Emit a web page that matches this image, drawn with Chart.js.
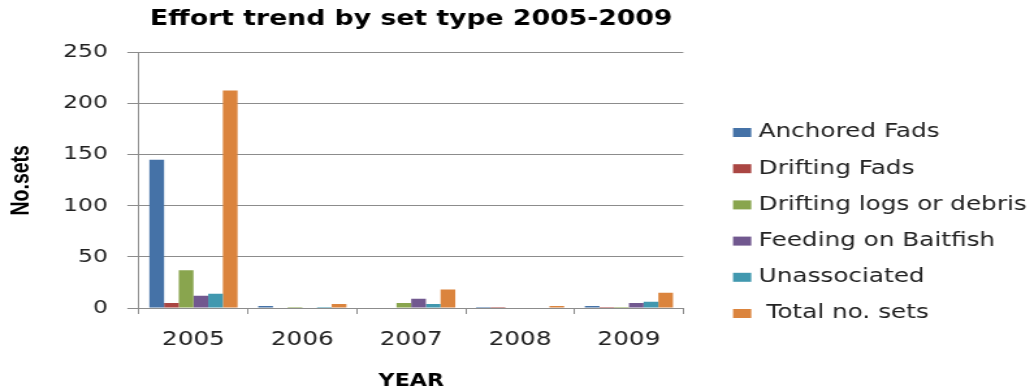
<!DOCTYPE html>
<html>
<head>
<meta charset="utf-8">
<script src="https://cdn.jsdelivr.net/npm/chart.js@4/dist/chart.umd.min.js"></script>
<style>
  html, body { margin: 0; padding: 0; background: #ffffff; overflow: hidden; }
  #wrap { width: 795px; height: 390px; transform: scaleX(1.3006); transform-origin: 0 0; }
</style>
</head>
<body>
<div id="wrap"><canvas id="c"></canvas></div>
<script>
// ---- data ----
const years = ['2005', '2006', '2007', '2008', '2009'];
const anchoredFads = [145, 2, 0, 1, 2];
const driftingFads = [5, 0, 0, 1, 1];
const driftingLogs = [37, 1, 5, 0, 1];
const feedingBaitfish = [12, 0, 9, 0, 5];
const unassociated = [14, 1, 4, 0, 6];
const totalSets = [213, 4, 18, 2, 15];
const seriesNames = ['Anchored Fads', 'Drifting Fads', 'Drifting logs or debris', 'Feeding on Baitfish', 'Unassociated', ' Total no. sets'];
const yTicks = [0, 50, 100, 150, 200, 250];
const chartTitle = 'Effort trend by set type 2005-2009';
const xTitle = 'YEAR';
const yTitle = 'No.sets';

const seriesValues = [anchoredFads, driftingFads, driftingLogs, feedingBaitfish, unassociated, totalSets];
const seriesColors = ['#4572A7', '#AA4643', '#89A54E', '#71588F', '#4198AF', '#DB843D'];

const legendPlugin = {
  id: 'sideLegend',
  afterDraw(chart) {
    const ctx = chart.ctx;
    ctx.save();
    chart.data.datasets.forEach((ds, i) => {
      const yc = 132.5 + i * 36.2;
      ctx.fillStyle = ds.backgroundColor;
      ctx.fillRect(563.6, yc - 4.5, 14, 9);
      ctx.fillStyle = '#222222';
      ctx.font = '19px "DejaVu Sans"';
      ctx.textBaseline = 'middle';
      ctx.textAlign = 'left';
      ctx.fillText(ds.label, 583.3, yc);
    });
    ctx.restore();
  }
};

new Chart(document.getElementById('c'), {
  type: 'bar',
  data: {
    labels: years,
    datasets: seriesNames.map((name, i) => ({
      label: name,
      data: seriesValues[i],
      backgroundColor: seriesColors[i],
      borderWidth: 0,
      categoryPercentage: 0.81,
      barPercentage: 1.0
    }))
  },
  options: {
    responsive: true,
    maintainAspectRatio: false,
    animation: false,
    layout: { padding: { left: 0, right: 269.6, top: 0, bottom: 0 } },
    plugins: {
      legend: { display: false },
      tooltip: { enabled: false },
      title: {
        display: true,
        text: chartTitle,
        fullSize: false,
        color: '#000000',
        font: { family: '"DejaVu Sans"', size: 20.5, weight: 'bold', lineHeight: 1.2 },
        padding: { top: 7.2, bottom: 20.8 }
      }
    },
    scales: {
      x: {
        grid: { display: true, drawOnChartArea: false, drawTicks: true, tickLength: 6, color: '#8c8c8c', offset: true },
        border: { display: true, color: '#8c8c8c', width: 1 },
        ticks: { color: '#222222', font: { family: '"DejaVu Sans"', size: 19, lineHeight: 1.2 }, padding: 14.3, maxRotation: 0 },
        title: { display: true, text: xTitle, color: '#000000', font: { family: '"DejaVu Sans"', size: 17, weight: 'bold', lineHeight: 1 }, padding: { top: 0, bottom: 0 } },
        afterFit(scale) { scale.height = 82; }
      },
      y: {
        min: 0,
        max: 250,
        afterBuildTicks(scale) { scale.ticks = yTicks.map(v => ({ value: v })); },
        grid: { display: true, drawOnChartArea: true, drawTicks: true, tickLength: 9, color: '#8c8c8c' },
        border: { display: true, color: '#8c8c8c', width: 1 },
        ticks: { color: '#222222', font: { family: '"DejaVu Sans"', size: 18 }, padding: 15 },
        title: { display: true, text: yTitle, color: '#000000', font: { family: '"Liberation Sans", Arial, sans-serif', size: 19.5, weight: 'bold', lineHeight: 1.2 }, padding: { top: 4.6, bottom: 0 } },
        afterFit(scale) { scale.width = 106.9; }
      }
    }
  },
  plugins: [legendPlugin]
});
</script>
</body>
</html>
